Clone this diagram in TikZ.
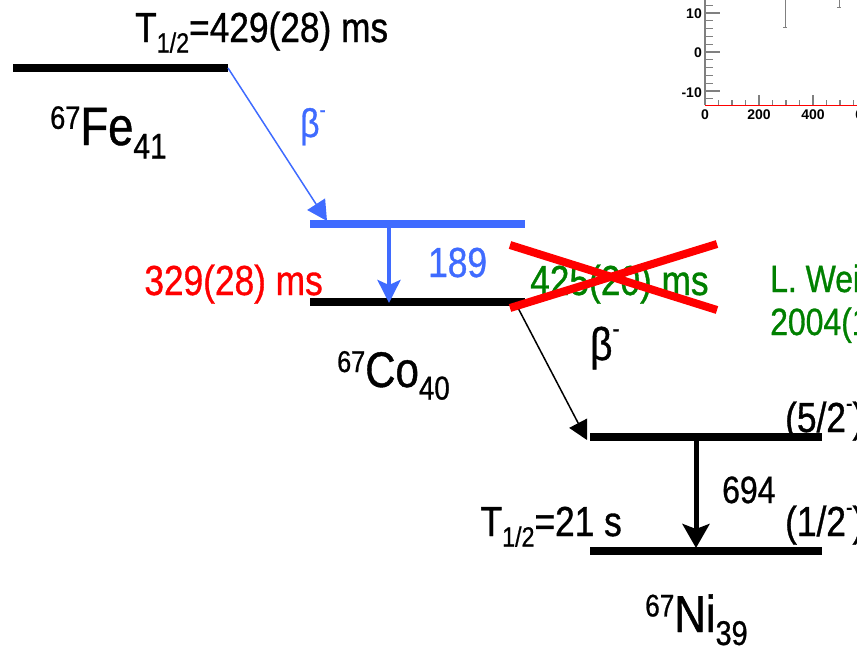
\documentclass[tikz,border=0pt]{standalone}
\usepackage{fontspec}
\setmainfont{Liberation Sans}[FakeStretch=0.84,FakeBold=0.8]
\newfontfamily\plotfont{Liberation Sans}
\usetikzlibrary{arrows.meta}
\definecolor{lvblue}{RGB}{63,107,255}
\definecolor{lvgreen}{RGB}{0,128,0}
\definecolor{lvred}{RGB}{255,0,0}
\definecolor{axgrey}{RGB}{128,128,128}
\newcommand{\hi}[1]{\raisebox{0.3em}{\scalebox{0.6}{#1}}}
\newcommand{\lo}[1]{\raisebox{-0.25em}{\scalebox{0.66}{#1}}}
\newcommand{\mn}{\raisebox{0.5em}{\scalebox{0.55}{-}}}
\newcommand{\fs}[1]{\fontsize{#1}{#1}\selectfont}
\tikzset{
  level/.style={line width=8pt},
  txt/.style={inner sep=0pt, anchor=base west},
  txtr/.style={inner sep=0pt, anchor=base east},
  ticklab/.style={inner sep=0pt, font=\plotfont\bfseries\fontsize{14}{14}\selectfont},
}
\begin{document}
\begin{tikzpicture}[x=1pt,y=-1pt]
\useasboundingbox (0,0) rectangle (857,646);
\clip (0,0) rectangle (857,646);
% --- inset plot (cropped) ---
\draw[axgrey, line width=1.5pt] (705,-2) -- (705,105);
\foreach \v in {-12,-10,...,12} {
  \pgfmathsetmacro\yy{52-3.9*\v}
  \pgfmathsetmacro\len{mod(\v,10)==0 ? 15 : 8}
  \draw[axgrey, line width=1.2pt] (705,\yy) -- ++(\len,0);
}
\foreach \u in {0,50,...,600} {
  \pgfmathsetmacro\xx{705+0.27*\u}
  \pgfmathsetmacro\len{mod(\u,200)==0 ? 10 : 5}
  \draw[axgrey, line width=1.2pt] (\xx,105) -- ++(0,-\len);
}
\draw[axgrey, line width=1pt] (785,-2) -- (785,27) (783,27) -- (787,27);
\draw[axgrey, line width=1pt] (839,-2) -- (839,7) (837,7) -- (841,7);
\draw[lvred, line width=1pt] (705,105) -- (860,105);
\node[ticklab, anchor=east] (yl10) at (702,14) {10};
\node[ticklab, anchor=east] (yl0) at (702,53) {0};
\node[ticklab, anchor=east] (ylm10) at (702,93) {-10};
\node[ticklab, anchor=north] (xl0) at (705,110) {0};
\node[ticklab, anchor=north] (xl200) at (759,110) {200};
\node[ticklab, anchor=north] (xl400) at (813,110) {400};
\node[ticklab, anchor=north] (xl600) at (867,110) {600};
% --- level coordinates ---
\coordinate (feL) at (13,68);  \coordinate (feR) at (228,68);
\coordinate (bL) at (310,224); \coordinate (bR) at (525,224);
\coordinate (coL) at (310,302);\coordinate (coR) at (525,302);
\coordinate (n1L) at (590,437);\coordinate (n1R) at (822,437);
\coordinate (n0L) at (590,551);\coordinate (n0R) at (822,551);
\coordinate (bTip) at (327,221);
\coordinate (gTop) at (389,224); \coordinate (gBot) at (389,303);
\coordinate (dStart) at (517,306); \coordinate (dTip) at (587,440);
\coordinate (nTop) at (696,437); \coordinate (nBot) at (696,548);
\coordinate (x1a) at (510,245); \coordinate (x1b) at (717,310);
\coordinate (x2a) at (510,308); \coordinate (x2b) at (717,244);
% --- levels ---
\draw[level] (feL) -- (feR);
\draw[level, lvblue] (bL) -- (bR);
\draw[level] (coL) -- (coR);
\draw[level] (n1L) -- (n1R);
\draw[level] (n0L) -- (n0R);
% --- transitions ---
\draw[lvblue, line width=1.5pt, -{Triangle[length=20pt,width=21pt]}] (feR) -- (bTip);
\draw[lvblue, line width=4pt, -{Stealth[length=23pt,width=23pt,inset=5pt]}] (gTop) -- (gBot);
\draw[black, line width=1.5pt, -{Triangle[length=19pt,width=20pt]}] (dStart) -- (dTip);
\draw[black, line width=5pt, -{Stealth[length=24pt,width=27pt,inset=5pt]}] (nTop) -- (nBot);
% --- texts ---
\node[txt, font=\fs{42}] (thFe) at (135,42) {T\lo{1/2}=429(28) ms};
\node[txt, font=\fs{54}] (fe) at (50,145) {\hi{67}Fe\lo{41}};
\node[txt, font=\fs{40}, text=lvblue] (betaB) at (300,137) {β\mn};
\node[txt, font=\fs{42}, text=lvblue] (e189) at (428,277) {189};
\node[txtr, font=\fs{42}, text=lvred] (thCo) at (323,295) {329(28) ms};
\node[txt, font=\fs{42}, text=lvgreen] (thOld) at (530,295) {425(20) ms};
\node[txt, font=\fs{38}, text=lvgreen] (ref1) at (770,292) {L. Wei};
\node[txt, font=\fs{38}, text=lvgreen] (ref2) at (770,335) {2004(1};
\node[txt, font=\fs{50}] (co) at (337,387) {\hi{67}Co\lo{40}};
\node[txt, font=\fs{46}] (betaK) at (590,360) {β\mn};
\node[txt, font=\fs{42}] (j52) at (785,432) {(5/2\mn)};
\node[txt, font=\fs{42}] (j12) at (785,536) {(1/2\mn)};
\node[txt, font=\fs{38}] (e694) at (722,503) {694};
\node[txtr, font=\fs{42}] (thNi) at (622,536) {T\lo{1/2}=21 s};
\node[txt, font=\fs{52}] (ni) at (645,632) {\hi{67}Ni\lo{39}};
% --- red cross ---
\draw[lvred, line width=8pt] (x1a) -- (x1b);
\draw[lvred, line width=8pt] (x2a) -- (x2b);
\end{tikzpicture}
\end{document}
